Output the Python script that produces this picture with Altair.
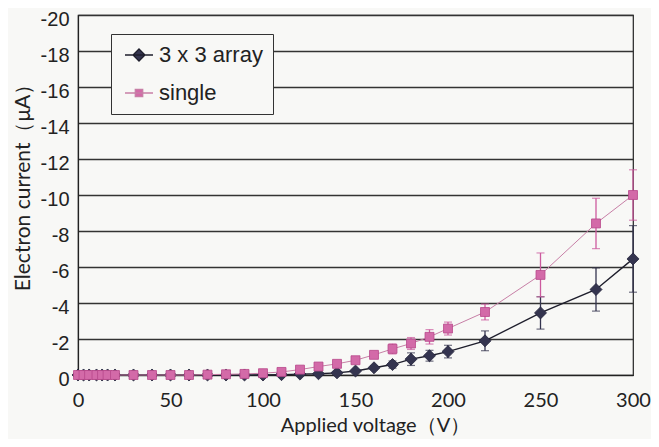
import altair as alt
import pandas as pd

voltage = [0, 3, 6, 10, 13, 16, 20, 30, 40, 50, 60, 70, 80, 90, 100,
           110, 120, 130, 140, 150, 160, 170, 180, 190, 200, 220, 250, 280, 300]
array_current = [0, 0, 0, 0, 0, 0, 0, 0, 0, 0, 0, 0, 0, 0, 0,
                 -0.02, -0.05, -0.07, -0.12, -0.22, -0.4, -0.58, -0.88, -1.07, -1.3, -1.9, -3.45, -4.75, -6.45]
array_err = [0, 0, 0, 0, 0, 0, 0, 0, 0, 0, 0, 0, 0, 0, 0,
             0, 0, 0, 0, 0.05, 0.1, 0.2, 0.35, 0.3, 0.35, 0.55, 0.9, 1.2, 1.85]
single_current = [0, 0, 0, 0, 0, 0, 0, 0, 0, 0, 0, -0.02, -0.04, -0.06, -0.1,
                  -0.17, -0.3, -0.47, -0.62, -0.82, -1.12, -1.45, -1.75, -2.12, -2.58, -3.5, -5.56, -8.42, -10.0]
single_err = [0, 0, 0, 0, 0, 0, 0, 0, 0, 0, 0, 0, 0, 0, 0,
              0, 0, 0, 0, 0.15, 0.2, 0.28, 0.33, 0.4, 0.36, 0.44, 1.22, 1.4, 1.4]
series_names = ["3 x 3 array", "single"]
y_ticks = [-20, -18, -16, -14, -12, -10, -8, -6, -4, -2, 0]
x_ticks = [0, 50, 100, 150, 200, 250, 300]

rows = []
for v, c, e in zip(voltage, array_current, array_err):
    rows.append({"V": v, "I": c, "err": e, "lo": c - e, "hi": c + e, "series": series_names[0]})
for v, c, e in zip(voltage, single_current, single_err):
    rows.append({"V": v, "I": c, "err": e, "lo": c - e, "hi": c + e, "series": series_names[1]})
df = pd.DataFrame(rows)

DARK = "#34344f"
DARK_LINE = "#1e1e2c"
PINK = "#cc5a9e"
PINK_LINE = "#c77fa6"

xs = alt.Scale(domain=[0, 300], nice=False)
ys = alt.Scale(domain=[-20, 0], reverse=True, nice=False)

x_axis = alt.Axis(
    values=x_ticks, title="Applied voltage（V）", grid=False, ticks=False,
    labelFont="Lato", labelFontSize=20, labelColor="#222", labelPadding=15,
    labelOverlap=False, labelFlush=False,
    titleFont="Lato", titleFontSize=20, titleFontWeight="normal", titleColor="#222",
    titlePadding=5, titleX=297, titleAlign="center",
    domainColor="#222", domainWidth=1.2)
y_axis = alt.Axis(
    values=y_ticks, tickCount=11, title="Electron current（μA）", grid=True, gridColor="#333",
    gridWidth=1.3, ticks=False, labelExpr="'' + datum.value", labelOverlap=False,
    labelFont="Liberation Sans", labelFontSize=20, labelColor="#222", labelPadding=9,
    labelOffset=4,
    titleFont="Lato", titleFontSize=21, titleFontWeight="normal", titleColor="#222",
    titlePadding=7, titleY=167, titleAlign="center",
    domainColor="#222", domainWidth=1.2)


def X(field):
    return alt.X(field, scale=xs, axis=x_axis)


def Y(field):
    return alt.Y(field, scale=ys, axis=y_axis)


base = alt.Chart(df)


def series_layers(name, line_color, line_w, bar_color, shape, size, fill, stroke):
    d = base.transform_filter(alt.datum.series == name)
    line = d.mark_line(color=line_color, strokeWidth=line_w).encode(x=X("V:Q"), y=Y("I:Q"), order="V:Q")
    e = d.transform_filter(alt.datum.err > 0)
    rule = e.mark_rule(color=bar_color, strokeWidth=1.3).encode(x=X("V:Q"), y=Y("lo:Q"), y2="hi:Q")
    cap_lo = e.mark_tick(color=bar_color, orient="horizontal", size=8, thickness=1.2).encode(
        x=X("V:Q"), y=Y("lo:Q"))
    cap_hi = e.mark_tick(color=bar_color, orient="horizontal", size=8, thickness=1.2).encode(
        x=X("V:Q"), y=Y("hi:Q"))
    pts = d.mark_point(shape=shape, size=size, filled=True, fill=fill, stroke=stroke,
                       strokeWidth=0.8, opacity=1).encode(x=X("V:Q"), y=Y("I:Q"))
    return [line, rule, cap_lo, cap_hi, pts]


array_layers = series_layers(series_names[0], DARK_LINE, 1.4, DARK, "diamond", 145, DARK, "#22223a")
single_layers = series_layers(series_names[1], PINK_LINE, 1.0, PINK, "square", 80, "#d36aa8", "#b8488a")

diamond_path = "M-1.4,0H1.4M0,-0.6L0.6,0L0,0.6L-0.6,0Z"
square_path = "M-1.4,0H1.4M-0.37,-0.37H0.37V0.37H-0.37Z"

legend_layer = base.transform_filter("datum.V < -1").mark_point(filled=True, opacity=1).encode(
    x=X("V:Q"), y=Y("I:Q"),
    shape=alt.Shape("series:N", scale=alt.Scale(domain=series_names, range=[diamond_path, square_path]),
                    legend=alt.Legend(title=None, orient="none", legendX=33, legendY=19,
                                      labelFont="Liberation Sans", labelFontSize=22, labelColor="#222",
                                      symbolSize=400, symbolStrokeWidth=1.3, rowPadding=16,
                                      padding=10, symbolOffset=7, labelOffset=9,
                                      fillColor="#f8f8f6", strokeColor="#333", labelLimit=200)),
    fill=alt.Fill("series:N", scale=alt.Scale(domain=series_names, range=[DARK, "#d36aa8"])),
    stroke=alt.Stroke("series:N", scale=alt.Scale(domain=series_names, range=[DARK_LINE, PINK_LINE])),
)

chart = alt.layer(*array_layers, *single_layers, legend_layer).properties(
    width=555, height=360,
    autosize=alt.AutoSizeParams(type="none"),
    padding={"left": 70, "top": 7, "right": 18, "bottom": 64},
    background="#f8f8f6",
).configure_view(stroke="#222", strokeWidth=1.2)

chart.save("out.html", embed_options={"renderer": "svg", "actions": False})
